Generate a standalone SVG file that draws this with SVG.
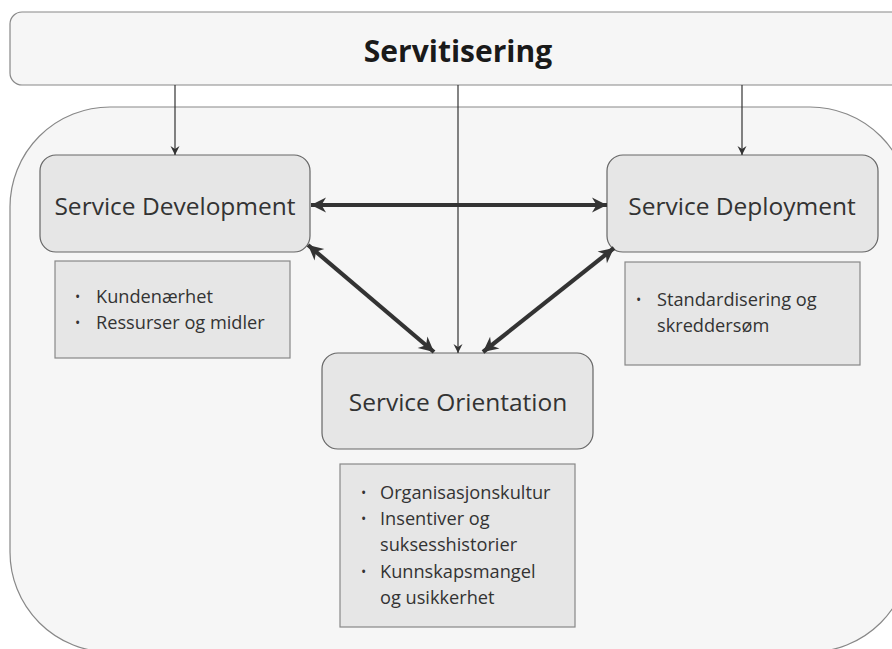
<svg xmlns="http://www.w3.org/2000/svg" width="892" height="649" viewBox="0 0 892 649">
<defs>
<marker id="thick" markerUnits="userSpaceOnUse" markerWidth="20" markerHeight="20" viewBox="-16 -10 20 20" refX="0" refY="0" orient="auto-start-reverse">
<path d="M0,0 L-15,-7.5 L-10.5,0 L-15,7.5 Z" fill="#333"/>
</marker>
<marker id="thin" markerUnits="userSpaceOnUse" markerWidth="12" markerHeight="12" viewBox="-10 -6 12 12" refX="0" refY="0" orient="auto">
<path d="M0,0 L-9,-4.5 L-6,0 L-9,4.5 Z" fill="#333"/>
</marker>
<style>
.txt{font-family:"Open Sans","Noto Sans","Liberation Sans",sans-serif;fill:#333}
.title{font-size:30px;font-weight:bold;fill:#1a1a1a}
.node{fill:#e6e6e6;stroke:#666;stroke-width:1.2}
.note{fill:#e6e6e6;stroke:#888;stroke-width:1.2}
.ntext{font-size:24.5px;text-anchor:middle}
.btext{font-size:18.2px}
.bul{font-size:14px}
.thinline{stroke:#333;stroke-width:1.2;fill:none}
.thickline{stroke:#333;stroke-width:4.2;fill:none}
</style>
</defs>
<rect width="892" height="649" fill="#ffffff"/>
<g id="container">
<rect x="10" y="107" width="900" height="545" rx="100" ry="100" fill="#f6f6f6" stroke="#888" stroke-width="1.2"/>
</g>
<g id="servitisering">
<rect x="10" y="12" width="900" height="73" rx="12" ry="12" fill="#f6f6f6" stroke="#888" stroke-width="1.2"/>
<text class="txt title" x="458" y="62" text-anchor="middle">Servitisering</text>
</g>
<g id="service-development">
<rect class="node" x="40" y="155" width="270" height="97" rx="16" ry="16"/>
<text class="txt ntext" x="175" y="215">Service Development</text>
</g>
<g id="service-deployment">
<rect class="node" x="607" y="155" width="271" height="97" rx="16" ry="16"/>
<text class="txt ntext" x="742" y="215">Service Deployment</text>
</g>
<g id="service-orientation">
<rect class="node" x="322" y="353" width="271" height="96" rx="16" ry="16"/>
<text class="txt ntext" x="458" y="411">Service Orientation</text>
</g>
<g id="dev-notes">
<rect class="note" x="55" y="261" width="235" height="97"/>
<text class="txt bul"><tspan x="75" y="302">•</tspan><tspan x="75" y="328">•</tspan></text>
<text class="txt btext"><tspan x="96" y="303">Kundenærhet</tspan><tspan x="96" y="329">Ressurser og midler</tspan></text>
</g>
<g id="deploy-notes">
<rect class="note" x="625" y="262" width="235" height="103"/>
<text class="txt bul"><tspan x="636" y="305">•</tspan></text>
<text class="txt btext"><tspan x="657" y="306">Standardisering og</tspan><tspan x="657" y="332">skreddersøm</tspan></text>
</g>
<g id="orientation-notes">
<rect class="note" x="340" y="464" width="235" height="163"/>
<text class="txt bul"><tspan x="361" y="498">•</tspan><tspan x="361" y="524">•</tspan><tspan x="361" y="577">•</tspan></text>
<text class="txt btext"><tspan x="380" y="499">Organisasjonskultur</tspan><tspan x="380" y="525">Insentiver og</tspan><tspan x="380" y="551">suksesshistorier</tspan><tspan x="380" y="578">Kunnskapsmangel</tspan><tspan x="380" y="604">og usikkerhet</tspan></text>
</g>
<g id="connectors">
<line class="thinline" x1="175" y1="85" x2="175" y2="155" marker-end="url(#thin)"/>
<line class="thinline" x1="458" y1="85" x2="458" y2="353" marker-end="url(#thin)"/>
<line class="thinline" x1="742" y1="85" x2="742" y2="155" marker-end="url(#thin)"/>
<line class="thickline" x1="311" y1="205" x2="607" y2="205" marker-start="url(#thick)" marker-end="url(#thick)"/>
<line class="thickline" x1="308" y1="245" x2="434" y2="352" marker-start="url(#thick)" marker-end="url(#thick)"/>
<line class="thickline" x1="614" y1="248" x2="483" y2="352" marker-start="url(#thick)" marker-end="url(#thick)"/>
</g>
</svg>
